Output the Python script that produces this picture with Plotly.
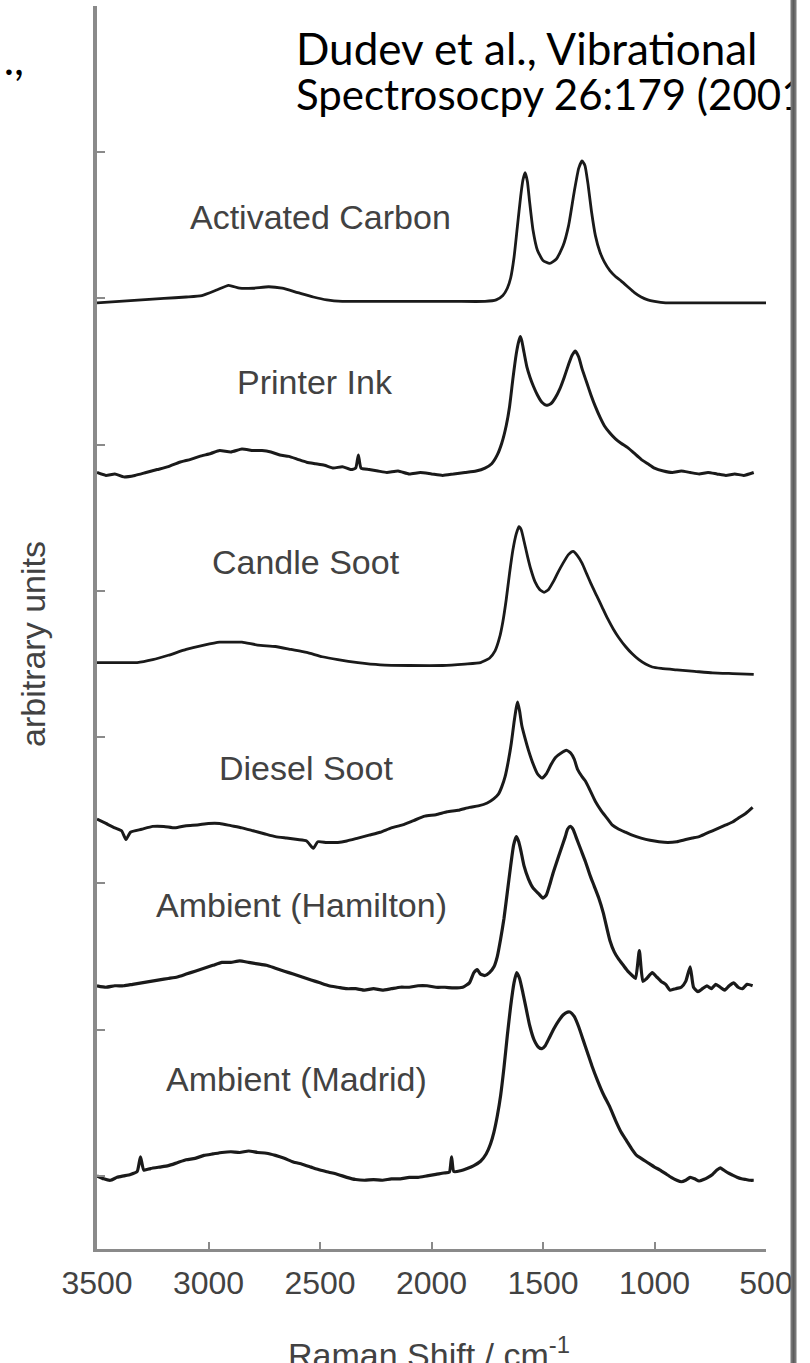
import plotly.graph_objects as go

# ---------------------------------------------------------------------------
# Raman spectra (stacked, arbitrary units); wavenumbers in cm^-1
# ---------------------------------------------------------------------------
spectrum_names = [
    "Activated Carbon",
    "Printer Ink",
    "Candle Soot",
    "Diesel Soot",
    "Ambient (Hamilton)",
    "Ambient (Madrid)",
]

wn_activated = [3500, 3400, 3300, 3200, 3100, 3030, 2960, 2910, 2860, 2800, 2730, 2670,
                2600, 2530, 2470, 2400, 2300, 2100, 1900, 1760, 1710, 1680, 1660, 1645,
                1630, 1615, 1600, 1590, 1580, 1570, 1560, 1545, 1525, 1500, 1470, 1440,
                1410, 1385, 1360, 1340, 1325, 1312, 1298, 1283, 1265, 1245, 1225, 1200,
                1175, 1150, 1120, 1090, 1060, 1030, 1000, 950, 850, 750, 650, 550, 490]
int_activated = [59.7, 59.8, 59.9, 60.0, 60.1, 60.2, 60.6, 60.9, 60.7, 60.7, 60.8, 60.7,
                 60.4, 60.1, 59.9, 59.8, 59.8, 59.8, 59.8, 59.8, 59.9, 60.2, 60.7, 61.4,
                 62.8, 64.9, 67.0, 68.1, 68.6, 68.0, 66.6, 64.7, 63.3, 62.6, 62.4, 62.7,
                 63.6, 65.0, 67.3, 68.9, 69.4, 69.1, 67.8, 66.0, 64.3, 63.2, 62.5, 61.9,
                 61.5, 61.2, 60.8, 60.4, 60.1, 59.9, 59.8, 59.7, 59.7, 59.7, 59.7, 59.7, 59.7]

wn_ink = [3500, 3460, 3420, 3380, 3330, 3280, 3230, 3180, 3130, 3080, 3040, 2990, 2950,
          2900, 2850, 2800, 2760, 2720, 2680, 2640, 2600, 2560, 2520, 2480, 2440, 2400,
          2360, 2340, 2328, 2316, 2280, 2240, 2200, 2150, 2100, 2050, 2000, 1950, 1900,
          1850, 1800, 1760, 1730, 1705, 1685, 1665, 1650, 1635, 1620, 1610, 1602, 1595,
          1585, 1572, 1558, 1543, 1525, 1505, 1485, 1465, 1445, 1425, 1405, 1385, 1370,
          1355, 1340, 1325, 1305, 1285, 1265, 1245, 1225, 1200, 1175, 1150, 1120, 1090,
          1060, 1030, 1000, 960, 920, 880, 840, 800, 760, 720, 680, 640, 600, 555]
int_ink = [48.1, 47.9, 48.0, 47.8, 47.9, 48.1, 48.3, 48.5, 48.8, 49.0, 49.2, 49.4, 49.6,
           49.5, 49.7, 49.6, 49.6, 49.5, 49.3, 49.2, 49.0, 48.8, 48.7, 48.6, 48.4, 48.5,
           48.3, 48.4, 49.3, 48.4, 48.3, 48.2, 48.1, 48.2, 48.0, 48.1, 48.0, 47.9, 48.0,
           48.1, 48.2, 48.4, 48.7, 49.3, 50.1, 51.3, 52.6, 54.5, 56.2, 57.0, 57.4, 57.1,
           56.3, 55.3, 54.6, 54.0, 53.4, 52.9, 52.7, 52.8, 53.2, 53.8, 54.6, 55.5, 56.1,
           56.4, 56.0, 55.2, 54.3, 53.4, 52.6, 51.9, 51.3, 50.8, 50.4, 50.1, 49.8, 49.4,
           49.0, 48.7, 48.4, 48.2, 48.1, 48.2, 48.1, 48.0, 48.1, 48.0, 47.9, 48.0, 47.9, 48.1]

wn_candle = [3500, 3400, 3320, 3250, 3180, 3100, 3020, 2950, 2900, 2850, 2780, 2700, 2630,
             2560, 2490, 2420, 2330, 2230, 2100, 1950, 1850, 1780, 1740, 1715, 1695, 1680,
             1665, 1650, 1635, 1620, 1608, 1598, 1585, 1570, 1555, 1535, 1515, 1495, 1475,
             1455, 1435, 1410, 1385, 1365, 1345, 1325, 1305, 1285, 1260, 1235, 1210, 1185,
             1160, 1130, 1100, 1070, 1040, 1010, 970, 900, 820, 740, 650, 555]
int_candle = [35.1, 35.1, 35.1, 35.3, 35.6, 36.0, 36.3, 36.5, 36.5, 36.5, 36.3, 36.2, 36.0,
              35.8, 35.5, 35.3, 35.1, 34.95, 34.9, 34.9, 35.0, 35.1, 35.4, 35.9, 36.8, 37.9,
              39.4, 41.2, 42.8, 43.9, 44.4, 44.2, 43.4, 42.4, 41.5, 40.6, 40.1, 39.9, 40.1,
              40.6, 41.2, 41.9, 42.5, 42.7, 42.4, 41.9, 41.2, 40.5, 39.7, 38.9, 38.1, 37.4,
              36.8, 36.2, 35.7, 35.3, 35.0, 34.8, 34.7, 34.6, 34.5, 34.4, 34.35, 34.3]

wn_diesel = [3500, 3460, 3420, 3390, 3370, 3350, 3300, 3250, 3200, 3150, 3100, 3050, 3000,
             2950, 2900, 2850, 2800, 2750, 2700, 2650, 2600, 2560, 2530, 2510, 2470, 2420,
             2380, 2330, 2280, 2230, 2180, 2130, 2080, 2030, 1980, 1930, 1880, 1830, 1790,
             1750, 1720, 1700, 1685, 1670, 1655, 1642, 1630, 1620, 1614, 1605, 1595, 1580,
             1565, 1545, 1525, 1505, 1485, 1465, 1445, 1420, 1395, 1375, 1360, 1345, 1325,
             1310, 1290, 1265, 1240, 1215, 1190, 1160, 1130, 1100, 1060, 1020, 980, 940,
             900, 860, 830, 800, 770, 740, 710, 680, 650, 620, 590, 560]
int_diesel = [24.4, 24.1, 23.8, 23.6, 23.0, 23.5, 23.7, 23.9, 23.9, 23.8, 23.95, 24.0, 24.1,
              24.1, 23.95, 23.8, 23.6, 23.4, 23.2, 23.1, 23.0, 22.9, 22.4, 22.85, 22.8, 22.8,
              22.9, 23.1, 23.3, 23.5, 23.8, 24.0, 24.3, 24.6, 24.7, 24.9, 25.0, 25.2, 25.3,
              25.5, 25.8, 26.1, 26.6, 27.3, 28.4, 29.6, 31.0, 32.0, 32.4, 31.8, 30.8, 29.9,
              29.1, 28.2, 27.5, 27.2, 27.5, 28.1, 28.6, 28.9, 29.1, 28.9, 28.5, 27.8, 27.3,
              27.0, 26.4, 25.6, 25.0, 24.5, 24.0, 23.7, 23.5, 23.3, 23.1, 22.95, 22.85, 22.8,
              22.85, 23.0, 23.1, 23.2, 23.4, 23.6, 23.8, 24.0, 24.2, 24.5, 24.8, 25.2]

wn_hamilton = [3500, 3460, 3420, 3380, 3340, 3300, 3260, 3220, 3180, 3140, 3100, 3060, 3020,
               2980, 2940, 2900, 2860, 2820, 2780, 2740, 2700, 2660, 2620, 2580, 2540, 2500,
               2460, 2420, 2380, 2340, 2300, 2260, 2220, 2180, 2140, 2100, 2060, 2020, 1980,
               1940, 1900, 1860, 1830, 1810, 1795, 1780, 1760, 1740, 1720, 1705, 1690, 1675,
               1660, 1645, 1632, 1620, 1610, 1600, 1585, 1565, 1545, 1520, 1500, 1485, 1470,
               1455, 1440, 1420, 1400, 1390, 1378, 1365, 1350, 1330, 1310, 1290, 1270, 1250,
               1230, 1200, 1180, 1160, 1140, 1120, 1100, 1085, 1068, 1052, 1035, 1010, 990,
               970, 950, 930, 905, 880, 860, 840, 825, 805, 785, 765, 745, 725, 705, 685, 665,
               645, 625, 605, 585, 560]
int_hamilton = [13.0, 12.9, 13.0, 13.0, 13.1, 13.2, 13.3, 13.4, 13.5, 13.6, 13.8, 14.0, 14.2,
                14.4, 14.6, 14.6, 14.7, 14.6, 14.5, 14.4, 14.2, 14.0, 13.8, 13.6, 13.4, 13.2,
                13.0, 12.9, 12.8, 12.8, 12.7, 12.8, 12.7, 12.8, 12.9, 12.9, 13.0, 13.0, 12.9,
                12.9, 12.85, 12.9, 13.2, 13.9, 14.1, 13.8, 13.7, 13.9, 14.3, 15.0, 16.2, 17.6,
                19.4, 21.2, 22.6, 23.2, 22.9, 22.3, 21.2, 20.3, 19.7, 19.3, 19.0, 19.2, 19.9,
                20.7, 21.4, 22.3, 23.2, 23.7, 23.9, 23.7, 23.1, 22.3, 21.5, 20.6, 19.8, 19.0,
                18.0, 16.1, 15.3, 14.8, 14.4, 14.0, 13.7, 13.5, 15.4, 13.3, 13.5, 13.9, 13.6,
                13.3, 13.1, 12.7, 12.8, 12.9, 13.3, 14.3, 12.9, 12.6, 12.8, 13.0, 12.8, 13.1,
                12.9, 12.7, 13.0, 13.2, 12.9, 12.8, 13.1, 13.0]

wn_madrid = [3500, 3470, 3440, 3410, 3380, 3350, 3320, 3305, 3290, 3260, 3220, 3180, 3140,
             3100, 3060, 3020, 2980, 2940, 2900, 2860, 2820, 2780, 2740, 2700, 2660, 2620,
             2580, 2540, 2500, 2460, 2420, 2380, 2340, 2300, 2260, 2220, 2180, 2140, 2100,
             2060, 2020, 1980, 1945, 1920, 1910, 1900, 1870, 1840, 1810, 1780, 1755, 1735,
             1720, 1705, 1690, 1675, 1660, 1645, 1630, 1618, 1605, 1590, 1575, 1560, 1540,
             1520, 1505, 1490, 1470, 1450, 1430, 1410, 1390, 1378, 1360, 1340, 1320, 1300,
             1280, 1255, 1230, 1200, 1175, 1150, 1125, 1100, 1080, 1060, 1040, 1020, 1000,
             975, 950, 925, 900, 880, 860, 840, 820, 800, 780, 760, 740, 720, 705, 690, 670,
             650, 630, 610, 590, 570, 555]
int_madrid = [0.0, -0.2, -0.3, -0.1, 0.0, 0.1, 0.3, 1.3, 0.4, 0.5, 0.6, 0.7, 0.9,
              1.1, 1.2, 1.4, 1.5, 1.6, 1.65, 1.6, 1.7, 1.6, 1.55, 1.4, 1.2, 0.95,
              0.8, 0.6, 0.4, 0.25, 0.1, -0.1, -0.25, -0.3, -0.25, -0.3, -0.2, -0.2, -0.1,
              -0.1, 0.0, 0.1, 0.2, 0.25, 1.3, 0.3, 0.35, 0.5, 0.7, 1.0, 1.5, 2.2,
              3.0, 4.1, 5.5, 7.4, 9.6, 11.6, 13.2, 13.9, 13.5, 12.5, 11.4, 10.3, 9.3,
              8.8, 8.7, 8.9, 9.5, 10.1, 10.6, 11.0, 11.2, 11.2, 10.9, 10.2, 9.3, 8.4,
              7.5, 6.5, 5.6, 4.7, 3.8, 3.0, 2.4, 1.8, 1.4, 1.2, 1.0, 0.8, 0.6,
              0.4, 0.15, -0.1, -0.3, -0.4, -0.3, -0.1, -0.2, -0.35, -0.25, -0.1, 0.1, 0.4, 0.55, 0.4, 0.2,
              0.05, -0.1, -0.2, -0.25, -0.3, -0.3]

spectra_wn = [wn_activated, wn_ink, wn_candle, wn_diesel, wn_hamilton, wn_madrid]
spectra_int = [int_activated, int_ink, int_candle, int_diesel, int_hamilton, int_madrid]

x_tick_values = [3500, 3000, 2500, 2000, 1500, 1000, 500]
x_tick_labels = ["3500", "3000", "2500", "2000", "1500", "1000", "500"]
y_tick_values = [0, 10, 20, 30, 40, 50, 60, 70]

citation_lines = ["Dudev et al., Vibrational", "Spectrosocpy 26:179 (2001)"]

# label anchor points (wavenumber, intensity) for each spectrum name
label_wn = [2497, 2524, 2564, 2564, 2582, 2605]
label_int = [65.6, 54.3, 42.0, 27.9, 18.5, 6.6]

# ---------------------------------------------------------------------------
W, H = 810, 1363
left_px, right_px, top_px, bottom_px = 97, 766, 6, 1249
divider_px = 793.5

axis_grey = "#8a8a8a"
text_grey = "#424242"
label_font = "Liberation Sans, Arial, sans-serif"
line_widths = [2.8, 3.0, 2.8, 3.0, 3.2, 3.2]

fig = go.Figure()

for name, wn, ab, lw in zip(spectrum_names, spectra_wn, spectra_int, line_widths):
    fig.add_trace(go.Scatter(
        x=wn, y=ab, mode="lines", name=name,
        line=dict(color="#1a1a1a", width=lw, shape="spline", smoothing=0.5),
        hoverinfo="skip", xaxis="x", yaxis="y",
    ))

for name, lx, ly in zip(spectrum_names, label_wn, label_int):
    fig.add_annotation(
        x=lx, y=ly, xref="x", yref="y", text=name, showarrow=False,
        xanchor="center", yanchor="middle",
        font=dict(family=label_font, size=34, color=text_grey),
    )

# citation text, clipped at the slide divider
fig.add_trace(go.Scatter(
    x=[296], y=[54], mode="text", text=[citation_lines[0]],
    textposition="middle right", cliponaxis=True,
    textfont=dict(family="Lato, sans-serif", size=44, color="black"),
    hoverinfo="skip", xaxis="x2", yaxis="y2",
))
fig.add_trace(go.Scatter(
    x=[296], y=[99], mode="text", text=[citation_lines[1]],
    textposition="middle right", cliponaxis=True,
    textfont=dict(family="Lato, sans-serif", size=42, color="black"),
    hoverinfo="skip", xaxis="x2", yaxis="y2",
))
fig.add_trace(go.Scatter(
    x=[24], y=[64], mode="text", text=[".,"],
    textposition="middle left", cliponaxis=True,
    textfont=dict(family="Lato, sans-serif", size=44, color="black"),
    hoverinfo="skip", xaxis="x2", yaxis="y2",
))

fig.update_layout(
    width=W, height=H,
    margin=dict(l=0, r=0, t=0, b=0),
    paper_bgcolor="white", plot_bgcolor="rgba(0,0,0,0)",
    showlegend=False, template="none",
    xaxis=dict(
        domain=[left_px / W, right_px / W], anchor="y",
        range=[3500, 500], tickvals=x_tick_values, ticktext=x_tick_labels,
        ticks="inside", ticklen=7, tickwidth=2, tickcolor=axis_grey,
        showline=True, linecolor=axis_grey, linewidth=3,
        showgrid=False, zeroline=False, automargin=False,
        tickfont=dict(family=label_font, size=32, color=text_grey),
        ticklabelstandoff=4,
    ),
    yaxis=dict(
        domain=[1 - bottom_px / H, 1 - top_px / H], anchor="x",
        range=[-5, 80], tickvals=y_tick_values, showticklabels=False,
        ticks="inside", ticklen=8, tickwidth=2, tickcolor=axis_grey,
        showline=True, linecolor=axis_grey, linewidth=4,
        showgrid=False, zeroline=False, automargin=False,
    ),
    xaxis2=dict(domain=[0, divider_px / W], range=[0, divider_px], anchor="y2",
                visible=False, fixedrange=True),
    yaxis2=dict(domain=[0, 1], range=[H, 0], anchor="x2",
                visible=False, fixedrange=True),
)

# axis titles
fig.add_annotation(
    x=33 / W, y=1 - 644 / H, xref="paper", yref="paper",
    text="arbitrary units", textangle=-90, showarrow=False,
    xanchor="center", yanchor="middle",
    font=dict(family=label_font, size=34, color=text_grey),
)
fig.add_annotation(
    x=429 / W, y=1 - 1352 / H, xref="paper", yref="paper",
    text="Raman Shift / cm<sup>-1</sup>", showarrow=False,
    xanchor="center", yanchor="middle",
    font=dict(family=label_font, size=34, color=text_grey),
)

# slide divider on the right
fig.add_shape(type="rect", xref="paper", yref="paper",
              x0=(divider_px + 3) / W, x1=1.02, y0=-0.01, y1=1.01,
              fillcolor="white", line=dict(width=0), layer="above")
fig.add_shape(type="line", xref="paper", yref="paper",
              x0=divider_px / W, x1=divider_px / W, y0=0, y1=1,
              line=dict(color="#777777", width=6), layer="above")
fig.add_shape(type="line", xref="paper", yref="paper",
              x0=divider_px / W, x1=divider_px / W, y0=0, y1=1,
              line=dict(color="#5c5c5c", width=2), layer="above")

fig.write_html("out.html")
